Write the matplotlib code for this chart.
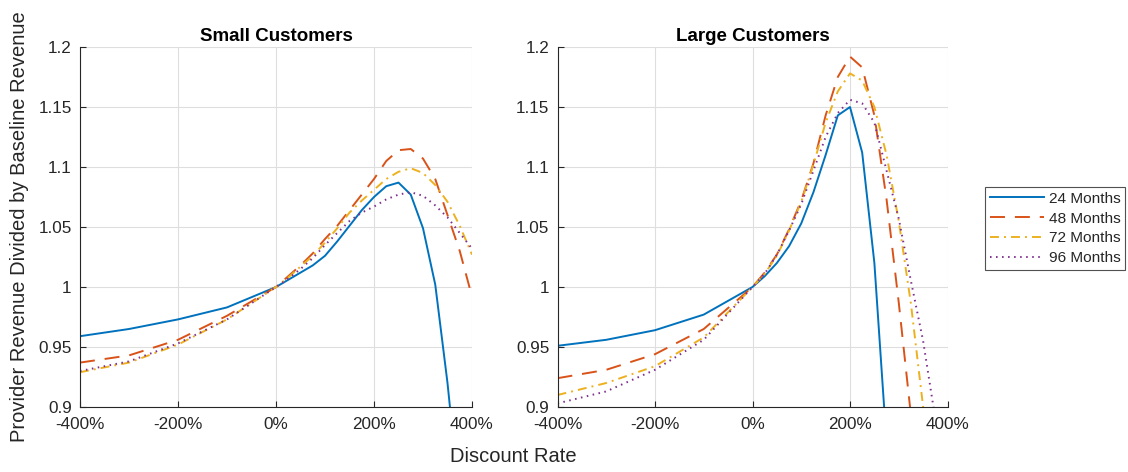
import numpy as np
import matplotlib
matplotlib.use('Agg')
import matplotlib.pyplot as plt
from matplotlib.ticker import FuncFormatter

nan = np.nan

# discount rate (%)
rate = [-400, -300, -200, -100, 0, 25, 50, 75, 100, 125, 150, 175, 200,
        225, 250, 275, 300, 325, 350, 375, 400]

small_24 = [0.959, 0.965, 0.973, 0.983, 1.0, 1.006, 1.012, 1.018, 1.026, 1.038, 1.051,
            1.064, 1.075, 1.084, 1.087, 1.077, 1.049, 1.002, 0.920, 0.820, 0.700]
small_48 = [0.937, 0.943, 0.956, 0.976, 1.0, 1.009, 1.018, 1.028, 1.040, 1.051, 1.064,
            1.077, 1.090, 1.105, 1.114, 1.115, 1.107, 1.090, 1.060, 1.030, 0.992]
small_72 = [0.929, 0.937, 0.952, 0.973, 1.0, 1.008, 1.017, 1.026, 1.037, 1.049, 1.062,
            1.072, 1.081, 1.090, 1.096, 1.099, 1.095, 1.085, 1.071, 1.051, 1.027]
small_96 = [0.930, 0.938, 0.953, 0.973, 1.0, 1.007, 1.015, 1.024, 1.035, 1.045, 1.055,
            1.062, 1.067, 1.073, 1.077, 1.079, 1.076, 1.068, 1.058, 1.045, 1.032]

large_24 = [0.951, 0.956, 0.964, 0.977, 1.0, 1.009, 1.020, 1.034, 1.053, 1.079, 1.110,
            1.143, 1.150, 1.112, 1.020, 0.870, 0.700, nan, nan, nan, nan]
large_48 = [0.924, 0.931, 0.944, 0.965, 1.0, 1.012, 1.027, 1.048, 1.072, 1.103, 1.143,
            1.175, 1.192, 1.183, 1.143, 1.073, 0.987, 0.893, 0.800, nan, nan]
large_72 = [0.910, 0.920, 0.934, 0.958, 1.0, 1.011, 1.026, 1.047, 1.071, 1.102, 1.137,
            1.163, 1.178, 1.172, 1.150, 1.110, 1.055, 0.986, 0.900, 0.810, nan]
large_96 = [0.903, 0.913, 0.931, 0.956, 1.0, 1.011, 1.027, 1.047, 1.069, 1.097, 1.125,
            1.145, 1.156, 1.153, 1.137, 1.097, 1.057, 1.005, 0.955, 0.890, 0.820]

labels = ['24 Months', '48 Months', '72 Months', '96 Months']
colors = ['#0072BD', '#D95319', '#EDB120', '#7E2F8E']
styles = ['-', (0, (7.7, 5.1)), (0, (4.6, 2.6, 1.0, 2.6)), (0, (0.8, 2.3))]

plt.rcParams['font.family'] = ['Liberation Sans', 'DejaVu Sans']
ink = '#262626'

fig = plt.figure(figsize=(11.28, 4.72), dpi=100)
W, H = 1128, 472
ax1 = fig.add_axes([80 / W, 1 - 407 / H, 392 / W, 360 / H])
ax2 = fig.add_axes([557.5 / W, 1 - 407 / H, 390 / W, 360 / H])

panels = [(ax1, 'Small Customers', [small_24, small_48, small_72, small_96]),
          (ax2, 'Large Customers', [large_24, large_48, large_72, large_96])]

for ax, title, series in panels:
    for y, lab, c, ls in zip(series, labels, colors, styles):
        ax.plot(rate, y, color=c, linestyle=ls, linewidth=1.4, label=lab)
    ax.set_xlim(-400, 400)
    ax.set_ylim(0.9, 1.2)
    ax.set_xticks([-400, -200, 0, 200, 400])
    ax.set_yticks([0.9, 0.95, 1.0, 1.05, 1.1, 1.15, 1.2])
    ax.xaxis.set_major_formatter(FuncFormatter(lambda v, p: '%g%%' % v))
    ax.yaxis.set_major_formatter(FuncFormatter(lambda v, p: '%g' % v))
    ax.tick_params(direction='in', length=4, width=0.8, colors=ink,
                   labelsize=12.3, top=False, right=False)
    ax.tick_params(axis='x', pad=7)
    ax.tick_params(axis='y', pad=6)
    ax.grid(True, color='#dedede', linewidth=0.8)
    ax.set_axisbelow(True)
    for s in ['top', 'right']:
        ax.spines[s].set_visible(False)
    for s in ['left', 'bottom']:
        ax.spines[s].set_color(ink)
        ax.spines[s].set_linewidth(0.8)
    ax.set_title(title, fontsize=13.5, fontweight='bold', color='black', pad=4)

fig.text(513.5 / W, 1 - 457 / H, 'Discount Rate', fontsize=14.5, color=ink,
         ha='center', va='center')
fig.text(20 / W, 1 - 227 / H, 'Provider Revenue Divided by Baseline Revenue',
         fontsize=14.5, color=ink, ha='center', va='center', rotation=90)

leg = fig.legend(*ax1.get_legend_handles_labels(), loc='center left',
                 bbox_to_anchor=(985 / W, 1 - 228.5 / H), fontsize=11.1,
                 frameon=True, fancybox=False, handlelength=3.5,
                 handletextpad=0.35, labelspacing=0.38, borderpad=0.3,
                 borderaxespad=0)
leg.get_frame().set_edgecolor('#262626')
leg.get_frame().set_linewidth(0.8)
for t in leg.get_texts():
    t.set_color(ink)

fig.savefig('out.png', dpi=100)
